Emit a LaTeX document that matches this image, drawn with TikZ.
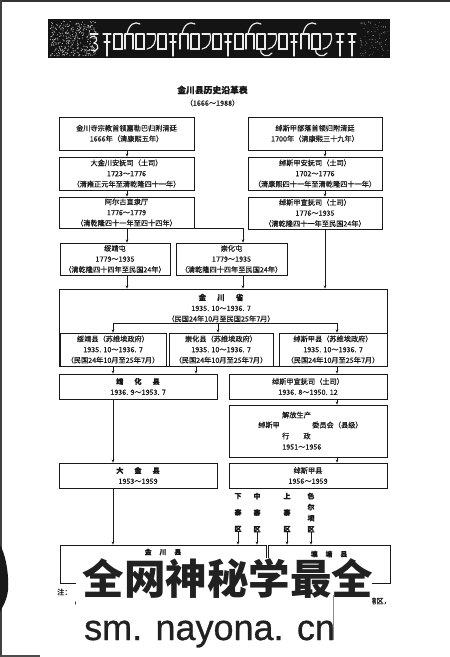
\documentclass[tikz,border=0pt]{standalone}
\usepackage{fontspec}
\newfontfamily\cjk{Noto Sans CJK SC}[FakeBold=0.5]
\newfontfamily\cjkwm{Noto Sans CJK SC}
\newfontfamily\lat{Liberation Sans}[FakeBold=0.8]
\usetikzlibrary{arrows.meta,calc}
\begin{document}
\begin{tikzpicture}[x=1pt,y=-1pt,
  box/.style={draw=black!90, line width=0.75pt, inner sep=0pt, align=center,
    font=\cjk\fontsize{7.2}{10.6}\selectfont, text=black!90},
  txt/.style={inner sep=0pt, align=center, font=\cjk\fontsize{7.2}{10.6}\selectfont, text=black!90},
  big/.style={inner sep=0pt, align=center, font=\cjk\bfseries\fontsize{7.6}{10.6}\selectfont, text=black!90},
  arr/.style={line width=0.6pt, black!90, -{Stealth[length=3.2pt,width=2.6pt]}},
  ln/.style={line width=0.6pt, black!90},
  wt/.style={white!92!black, line width=1.2pt, line cap=round}]
\useasboundingbox (0,0) rectangle (450,657);
\fill[white] (0,0) rectangle (450,657);
% scan edges
\fill[black!80] (0,0) rectangle (450,1.5);
\fill[black!75] (0,0) rectangle (2.2,657);
\fill[black!90] (0,545) .. controls (6,555) and (9,575) .. (8,590) .. controls (7,600) and (3,606) .. (0,612) -- cycle;
\fill[black!70] (0,654.5) rectangle (40,657);
% banner
\fill[black!92] (48,19) rectangle (390,58);
\pgfmathsetseed{12}
\foreach \i in {1,...,320} {
  \pgfmathsetmacro\px{50+46*rnd}
  \pgfmathsetmacro\py{21+35*rnd}
  \fill[white!75!black] (\px,\py) circle (0.55);
}
\foreach \i in {1,...,90} {
  \pgfmathsetmacro\px{360+28*rnd}
  \pgfmathsetmacro\py{21+35*rnd}
  \fill[white!55!black] (\px,\py) circle (0.45);
}
\foreach \x/\t in {90/5,103/2,114/1,125/3,136/1,147/4,158/1,169/2,180/3,191/1,202/4,213/1,224/2,235/1,246/3,257/6,268/4,279/1,290/2,301/3,312/6,323/4,336/2,348/2} {
  \draw[wt] (\x,34) -- (\x+8,34);
  \ifcase\t
  \or \draw[wt] (\x,34) -- (\x,49) -- (\x+8,49) -- (\x+8,34);
  \or \draw[wt] (\x+4,34) -- (\x+4,56); \draw[wt] (\x+1,42) -- (\x+7,42);
  \or \draw[wt] (\x,34) -- (\x,49); \draw[wt] (\x+8,34) -- (\x+8,49);
      \draw[wt] (\x+2,34) .. controls (\x+4,24) and (\x+10,21) .. (\x+15,24);
  \or \draw[wt] (\x+8,34) .. controls (\x+10,42) and (\x+6,48) .. (\x,49);
  \or \draw[wt] (\x,38) .. controls (\x+5,33) and (\x+10,40) .. (\x+4,43) .. controls (\x+11,45) and (\x+8,53) .. (\x+1,50);
  \or \draw[wt] (\x,34) -- (\x,49) -- (\x+8,49) -- (\x+8,34);
      \draw[wt] (\x+4,49) .. controls (\x+2,56) and (\x+12,58) .. (\x+15,53);
  \fi
}
% title
\node[inner sep=0pt, font=\cjk\bfseries\fontsize{8.8}{10}\selectfont, text=black!90] (title) at (212.5,90) {金川县历史沿革表};
\node[txt] (years) at (212.5,103) {（1666～1988）};
% column coordinates
\coordinate (lx) at (127,0);
\coordinate (hx) at (243,0);
\coordinate (rx) at (325,0);
% left column
\node[box, minimum width=135, minimum height=33] (A) at (126.5,133.5) {金川寺宗教首领嘉勒巴归附清廷\\1666年（清康熙五年）};
\node[box, minimum width=135, minimum height=33] (B) at (126.5,173.5) {大金川安抚司（土司）\\1723～1776\\（清雍正元年至清乾隆四十一年）};
\node[box, minimum width=135, minimum height=31] (C) at (126.5,212.5) {阿尔古直隶厅\\1776～1779\\（清乾隆四十一年至四十四年）};
% right column
\node[box, minimum width=134, minimum height=33] (D) at (315,133.5) {绰斯甲部落首领归附清廷\\1700年（清康熙三十九年）};
\node[box, minimum width=134, minimum height=33] (E) at (315,173.5) {绰斯甲安抚司（土司）\\1702～1776\\（清康熙四十一年至清乾隆四十一年）};
\node[box, minimum width=134, minimum height=32] (F) at (315,213) {绰斯甲宣抚司（土司）\\1776～1935\\（清乾隆四十一年至民国24年）};
% tun
\node[box, minimum width=110, minimum height=32] (G) at (115,259) {绥靖屯\\1779～1935\\（清乾隆四十四年至民国24年）};
\node[box, minimum width=111, minimum height=32] (H) at (231.5,259) {崇化屯\\1779～1935\\（清乾隆四十四年至民国24年）};
% jinchuan province
\node[box, minimum width=328, minimum height=77] (I) at (223,327.5) {};
\node[txt] (Itext) at (221,308) {{\bfseries\fontsize{7.6}{10.6}\selectfont 金\hspace{11pt}川\hspace{11pt}省}\\1935. 10～1936. 7\\（民国24年10月至民国25年7月）};
\node[box, minimum width=106, minimum height=33] (I1) at (113,349.5) {绥靖县（苏维埃政府）\\1935. 10～1936. 7\\（民国24年10月至25年7月）};
\node[box, minimum width=104, minimum height=33] (I2) at (221,349.5) {崇化县（苏维埃政府）\\1935. 10～1936. 7\\（民国24年10月至25年7月）};
\node[box, minimum width=108, minimum height=33] (I3) at (333,349.5) {绰斯甲县（苏维埃政府）\\1935. 10～1936. 7\\（民国24年10月至25年7月）};
% later
\node[box, minimum width=158, minimum height=25] (J) at (138,386.5) {{\bfseries 靖\hspace{11pt}化\hspace{11pt}县}\\1936. 9～1953. 7};
\node[box, minimum width=158, minimum height=25] (K) at (308,386.5) {绰斯甲宣抚司（土司）\\1936. 8～1950. 12};
\node[box, minimum width=158, minimum height=52] (L) at (308,431) {};
\node[txt, anchor=west] (L1) at (282,415) {解放生产};
\node[txt, anchor=west] (L2) at (258,425) {绰斯甲};
\node[txt, anchor=west] (L3) at (312,425) {委员会（县级）};
\node[txt, anchor=west] (L4) at (282,436) {行\hspace{14pt}政};
\node[txt, anchor=west] (L5) at (282,447) {1951～1956};
\node[box, minimum width=158, minimum height=25] (M) at (308,475.5) {绰斯甲县\\1956～1959};
\node[box, minimum width=158, minimum height=25] (N) at (138,475.5) {{\bfseries 大\hspace{11pt}金\hspace{11pt}县}\\1953～1959};
% districts
\node[big, font=\cjk\bfseries\fontsize{7}{16.5}\selectfont] (xia) at (238,512.5) {下\\寨\\区};
\node[big, font=\cjk\bfseries\fontsize{7}{16.5}\selectfont] (zhong) at (257,512.5) {中\\寨\\区};
\node[big, font=\cjk\bfseries\fontsize{7}{16.5}\selectfont] (shang) at (287,512.5) {上\\寨\\区};
\node[big, font=\cjk\bfseries\fontsize{7}{11}\selectfont] (se) at (311,512.5) {色\\尔\\坝\\区};
% bottom boxes
\node[box, minimum width=206, minimum height=38] (P) at (163,564) {};
\node[box, minimum width=122, minimum height=38] (Q) at (329,564) {};
\node[big, font=\cjk\bfseries\fontsize{6.8}{9}\selectfont] (Ptext) at (163,552) {金\hspace{8pt}川\hspace{8pt}县};
\node[big, font=\cjk\bfseries\fontsize{6.8}{9}\selectfont] (Qtext) at (329,554) {壤\hspace{8pt}塘\hspace{8pt}县};
% connectors
\draw[arr] (A.south -| lx) -- (B.north -| lx);
\draw[arr] (B.south -| lx) -- (C.north -| lx);
\draw[arr] (C.south -| lx) -- (G.north -| lx);
\draw[arr] (C.south east) -| (H.north -| hx);
\draw[arr] (D.south -| rx) -- (E.north -| rx);
\draw[arr] (E.south -| rx) -- (F.north -| rx);
\draw[arr] (F.south -| rx) -- (I.north -| rx);
\draw[arr] (G.south -| lx) -- (I.north -| lx);
\draw[arr] (H.south -| hx) -- (I.north -| hx);
\coordinate (b1) at (113,323);
\coordinate (b2) at (218,323);
\coordinate (b3) at (337,323);
\draw[ln] (b1) -- (b3);
\draw[arr] (b1) -- (I1.north -| b1);
\draw[arr] (b2) -- (I2.north -| b2);
\draw[arr] (b3) -- (I3.north -| b3);
\coordinate (c1) at (113,0);
\coordinate (c2) at (196,0);
\draw[arr] (I1.south -| c1) -- (J.north -| c1);
\draw[arr] (I2.south -| c2) -- (J.north -| c2);
\draw[arr] (I3.south -| b3) -- (K.north -| b3);
\draw[arr] (K.south -| b3) -- (L.north -| b3);
\draw[arr] (L.south -| b3) -- (M.north -| b3);
\draw[arr] (J.south -| c1) -- (N.north -| c1);
\draw[arr] (N.south -| c1) -- (P.north -| c1);
\draw[arr] (xia.south) -- (P.north -| xia.south);
\draw[arr] (zhong.south) -- (P.north -| zhong.south);
\draw[arr] (shang.south) -- (Q.north -| shang.south);
\draw[arr] (se.south) -- (Q.north -| se.south);
% note fragments
\node[txt, anchor=west] (note1) at (57,592) {注：（};
\node[txt, anchor=west] (note2) at (70,603) {（};
\node[txt, anchor=east] (note3) at (391,601) {辖区，};
% watermark
\fill[white] (76,558) rectangle (372,650);
\node[inner sep=0pt, font=\cjkwm\bfseries\fontsize{41.5}{45}\selectfont, text=black!87] (wm1) at (228,579) {全网神秘学最全};
\node[inner sep=0pt, anchor=base west, font=\lat\fontsize{36}{40}\selectfont, text=black!87] (wm2) at (84,640) {sm. nayona. cn};
\draw[black!45, line width=1pt] (333,595) -- (333,640);
\end{tikzpicture}
\end{document}
